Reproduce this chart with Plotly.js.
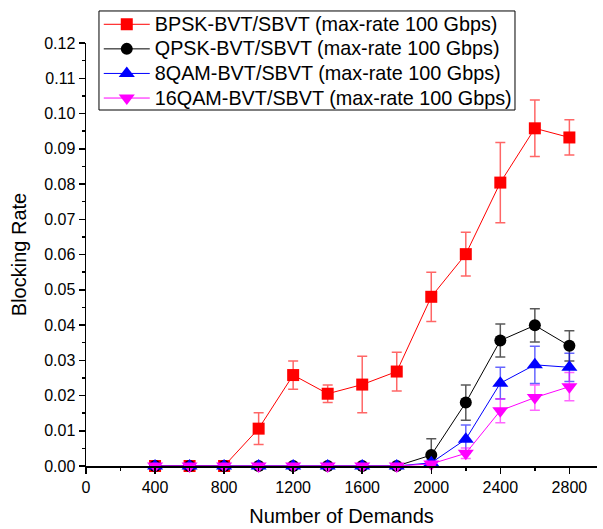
<!DOCTYPE html>
<html>
<head>
<meta charset="utf-8">
<script src="https://cdn.plot.ly/plotly-3.0.1.min.js"></script>
<style>html,body{margin:0;padding:0;background:#fff;}#chart{width:603px;height:529px;}</style>
</head>
<body>
<div id="chart"></div>
<script>
const demands = [400, 600, 800, 1000, 1200, 1400, 1600, 1800, 2000, 2200, 2400, 2600, 2800];

const seriesNames = [
  "BPSK-BVT/SBVT (max-rate 100 Gbps)",
  "QPSK-BVT/SBVT (max-rate 100 Gbps)",
  "8QAM-BVT/SBVT (max-rate 100 Gbps)",
  "16QAM-BVT/SBVT (max-rate 100 Gbps)"
];

const bpsk    = [0, 0, 0, 0.0106, 0.0258, 0.0205, 0.0231, 0.0268, 0.0480, 0.0601, 0.0804, 0.0958, 0.0932];
const bpskErr = [0, 0, 0, 0.0045, 0.0040, 0.0025, 0.0080, 0.0055, 0.0070, 0.0062, 0.0114, 0.0080, 0.0050];

const qpsk    = [0, 0, 0, 0, 0, 0, 0, 0, 0.0031, 0.0180, 0.0356, 0.0399, 0.0341];
const qpskErr = [0, 0, 0, 0, 0, 0, 0, 0, 0.0046, 0.0050, 0.0047, 0.0047, 0.0043];

const qam8    = [0, 0, 0, 0, 0, 0, 0, 0, 0.0009, 0.0076, 0.0235, 0.0287, 0.0280];
const qam8Err = [0, 0, 0, 0, 0, 0, 0, 0, 0.0008, 0.0040, 0.0045, 0.0053, 0.0040];

const qam16    = [0, 0, 0, 0, 0, 0, 0, 0, 0.0006, 0.0036, 0.0157, 0.0194, 0.0225];
const qam16Err = [0, 0, 0, 0, 0, 0, 0, 0, 0.0005, 0.0015, 0.0034, 0.0036, 0.0040];

const xTicks = [0, 400, 800, 1200, 1600, 2000, 2400, 2800];

function mk(name, y, err, color, errColor, symbol, size) {
  return {
    type: 'scatter', mode: 'lines+markers',
    name: '<span style="font-size:19.8px">' + name + '</span>',
    x: demands, y: y,
    line: {color: color, width: 1},
    marker: {color: color, symbol: symbol, size: size, line: {width: 0}},
    error_y: {type: 'data', array: err, visible: true, color: errColor, thickness: 1.5, width: 5},
    cliponaxis: false
  };
}

const traces = [
  mk(seriesNames[0], bpsk, bpskErr, '#FF0000', 'rgba(255,0,0,0.6)', 'square', 12),
  mk(seriesNames[1], qpsk, qpskErr, '#000000', 'rgba(0,0,0,0.65)', 'circle', 12),
  mk(seriesNames[2], qam8, qam8Err, '#0000FF', 'rgba(0,0,255,0.6)', 'triangle-up', 14),
  mk(seriesNames[3], qam16, qam16Err, '#FF00FF', 'rgba(255,0,255,0.6)', 'triangle-down', 14)
];

const font = {family: 'Liberation Sans, Arial, sans-serif', color: '#000'};

const layout = {
  width: 603, height: 529,
  margin: {l: 86, r: 6, t: 43, b: 63},
  paper_bgcolor: '#fff', plot_bgcolor: '#fff',
  font: Object.assign({size: 16}, font),
  showlegend: true,
  legend: {
    x: 0.025, y: 1.0851, xanchor: 'left', yanchor: 'top',
    borderwidth: 0, bgcolor: 'rgba(0,0,0,0)',
    font: Object.assign({size: 16.6}, font),
    itemwidth: 46, tracegroupgap: 0
  },
  shapes: [{
    type: 'rect', xref: 'paper', yref: 'paper', layer: 'below',
    x0: 0.0254, x1: 0.8395, y0: 0.8416, y1: 1.0757,
    line: {color: '#000', width: 1}, fillcolor: '#fff'
  }],
  xaxis: {
    range: [0, 2960],
    tickvals: xTicks, ticktext: xTicks.map(String),
    showgrid: false, zeroline: false,
    showline: true, linecolor: '#000', linewidth: 1.5,
    ticks: 'outside', ticklen: 6, tickwidth: 1.5, tickcolor: '#000',
    minor: {dtick: 200, tick0: 0, ticks: 'outside', ticklen: 3, tickwidth: 1.5, tickcolor: '#000', showgrid: false},
    tickfont: Object.assign({size: 16}, font),
    title: {text: 'Number of Demands', font: Object.assign({size: 20}, font), standoff: 14}
  },
  yaxis: {
    range: [0, 0.12],
    dtick: 0.01, tick0: 0, tickformat: '.2f',
    showgrid: false, zeroline: false,
    showline: true, linecolor: '#000', linewidth: 1.5,
    ticks: 'outside', ticklen: 6, tickwidth: 1.5, tickcolor: '#000',
    minor: {dtick: 0.005, tick0: 0, ticks: 'outside', ticklen: 3, tickwidth: 1.5, tickcolor: '#000', showgrid: false},
    tickfont: Object.assign({size: 16}, font),
    title: {text: 'Blocking Rate', font: Object.assign({size: 20}, font), standoff: 12}
  }
};

Plotly.newPlot('chart', traces, layout, {displayModeBar: false, staticPlot: true});
</script>
</body>
</html>
